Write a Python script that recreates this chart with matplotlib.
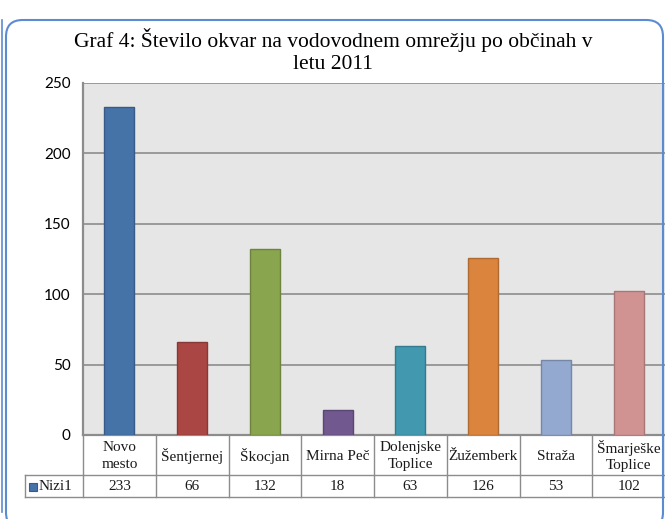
import matplotlib
matplotlib.use("Agg")
import matplotlib.pyplot as plt
from matplotlib.patches import FancyBboxPatch
from matplotlib.lines import Line2D
import matplotlib.colors as mcolors
import matplotlib.transforms as mtrans

categories = ["Novo\nmesto", "Šentjernej", "Škocjan", "Mirna Peč", "Dolenjske\nToplice",
              "Žužemberk", "Straža", "Šmarješke\nToplice"]
values = [233, 66, 132, 18, 63, 126, 53, 102]
series_name = "Nizi1"
bar_colors = ["#4572A7", "#AA4643", "#89A54E", "#71588F", "#4198AF", "#DB843D", "#93A9CF", "#D19392"]
yticks = [0, 50, 100, 150, 200, 250]
title = "Graf 4: Število okvar na vodovodnem omrežju po občinah v\nletu 2011"

W, H = 665, 519
fig = plt.figure(figsize=(W / 100, H / 100), dpi=100)
fig.patch.set_facecolor("white")

# plot area in pixels
left, right, top, bottom = 83, 665, 83, 435
ax = fig.add_axes([left / W, 1 - bottom / H, (right - left) / W, (bottom - top) / H])
ax.set_facecolor("#E6E6E6")
ax.set_xlim(-0.5, len(values) - 0.5)
ax.set_ylim(0, 250)

def darker(c, f=0.8):
    r, g, b = mcolors.to_rgb(c)
    return (r * f, g * f, b * f)

x = list(range(len(values)))
ax.bar(x, values, width=0.41, color=bar_colors,
       edgecolor=[darker(c) for c in bar_colors], linewidth=1.0, zorder=3)

ax.set_yticks(yticks)
ax.set_yticklabels([str(t) for t in yticks], fontsize=11, family="Lato")
ax.tick_params(axis="y", length=0, pad=9)
ax.set_xticks([])
ax.grid(axis="y", color="#8C8C8C", linewidth=1.2, zorder=1)
for s in ["top", "right"]:
    ax.spines[s].set_visible(False)
for s in ["left", "bottom"]:
    ax.spines[s].set_color("#8C8C8C")
    ax.spines[s].set_linewidth(1.6)

# data table below the plot
ph = bottom - top
def yf(ypix):
    return (bottom - ypix) / ph

trans = mtrans.blended_transform_factory(ax.transData, ax.transAxes)
grid_kw = dict(color="#8C8C8C", linewidth=1.0, transform=trans, clip_on=False)
row1, row2 = 475, 497
x_leg = -0.5 - (left - 25) / ((right - left) / len(values))
n = len(values)
for i in range(n + 1):
    xe = i - 0.5
    ax.add_line(Line2D([xe, xe], [yf(bottom), yf(row2)], **grid_kw))
ax.add_line(Line2D([-0.5, n - 0.5], [yf(row1), yf(row1)], **grid_kw))
ax.add_line(Line2D([x_leg, n - 0.5], [yf(row2), yf(row2)], **grid_kw))
ax.add_line(Line2D([x_leg, -0.5], [yf(row1), yf(row1)], **grid_kw))
ax.add_line(Line2D([x_leg, x_leg], [yf(row1), yf(row2)], **grid_kw))

tfont = dict(family="Liberation Serif", fontsize=11, color="#1a1a1a")
for i, (c, v) in enumerate(zip(categories, values)):
    ax.text(i, yf((bottom + row1) / 2 + 1), c, ha="center", va="center",
            transform=trans, linespacing=1.4, **tfont)
    ax.text(i, yf((row1 + row2) / 2), str(v), ha="center", va="center",
            transform=trans, **tfont)

# legend key in the table
fig.patches.append(FancyBboxPatch((29 / W, 1 - 491 / H), 8 / W, 8 / H,
                                  boxstyle="square,pad=0", transform=fig.transFigure,
                                  facecolor=bar_colors[0], edgecolor=darker(bar_colors[0]),
                                  linewidth=0.8))
fig.text(39 / W, 1 - 486 / H, series_name, ha="left", va="center", **tfont)

fig.text(333 / W, 1 - 51 / H, title, ha="center", va="center",
         family="Liberation Serif", fontsize=15.5, linespacing=1.2)

# chart frame
fig.patches.append(FancyBboxPatch((6 / W, -10 / H), 657 / W, (H - 10) / H,
                                  boxstyle="round,pad=0,rounding_size=0.025",
                                  transform=fig.transFigure, facecolor="none",
                                  edgecolor="#5B8BD0", linewidth=1.5,
                                  mutation_aspect=W / H))
fig.lines.append(Line2D([2 / W, 2 / W], [1 - 20 / H, 1 - 512 / H],
                        transform=fig.transFigure, color="#5B8BD0", linewidth=1.2))

fig.savefig("out.png", dpi=100, facecolor="white")
